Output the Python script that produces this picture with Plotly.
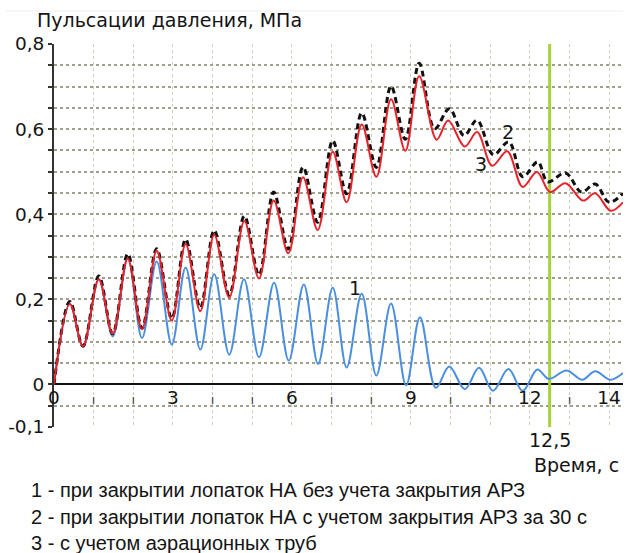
import plotly.graph_objects as go

# ---- data ----
t1 = [0, 0.40, 0.73, 1.13, 1.48, 1.86, 2.22, 2.59, 2.97, 3.32, 3.69, 4.04, 4.42, 4.79,
      5.17, 5.55, 5.92, 6.30, 6.66, 7.03, 7.38, 7.76, 8.13, 8.50, 8.88, 9.23, 9.63, 9.97,
      10.36, 10.72, 11.07, 11.46, 11.82, 12.19, 12.48, 12.93, 13.32, 13.65, 14.03, 14.35]
v1 = [0, 0.189, 0.090, 0.247, 0.113, 0.296, 0.109, 0.289, 0.094, 0.275, 0.082, 0.259, 0.070, 0.247,
      0.064, 0.239, 0.056, 0.235, 0.048, 0.227, 0.040, 0.213, 0.021, 0.190, -0.002, 0.158, -0.008, 0.042,
      -0.011, 0.039, -0.015, 0.036, -0.015, 0.035, 0.013, 0.033, 0.011, 0.031, 0.011, 0.027]

t2 = [0, 0.40, 0.73, 1.13, 1.48, 1.86, 2.22, 2.59, 2.97, 3.32, 3.69, 4.04, 4.42, 4.80,
      5.17, 5.54, 5.91, 6.28, 6.65, 7.03, 7.38, 7.76, 8.13, 8.50, 8.86, 9.21, 9.60, 9.97,
      10.34, 10.67, 11.08, 11.47, 11.82, 12.20, 12.45, 12.90, 13.30, 13.65, 14.00, 14.35]
v2 = [0, 0.195, 0.090, 0.255, 0.119, 0.307, 0.132, 0.319, 0.155, 0.341, 0.180, 0.362, 0.210, 0.396,
      0.257, 0.452, 0.318, 0.511, 0.381, 0.573, 0.448, 0.638, 0.510, 0.701, 0.576, 0.755, 0.601, 0.648,
      0.585, 0.621, 0.540, 0.570, 0.488, 0.523, 0.476, 0.497, 0.452, 0.471, 0.428, 0.449]

t3 = [0, 0.40, 0.73, 1.13, 1.48, 1.86, 2.22, 2.59, 2.97, 3.32, 3.69, 4.04, 4.42, 4.80,
      5.17, 5.54, 5.91, 6.28, 6.65, 7.03, 7.38, 7.76, 8.13, 8.50, 8.86, 9.21, 9.65, 9.94,
      10.36, 10.67, 11.05, 11.43, 11.82, 12.18, 12.51, 12.90, 13.34, 13.65, 14.04, 14.35]
v3 = [0, 0.189, 0.090, 0.247, 0.119, 0.296, 0.130, 0.314, 0.150, 0.330, 0.172, 0.352, 0.204, 0.384,
      0.249, 0.432, 0.308, 0.487, 0.363, 0.547, 0.428, 0.611, 0.488, 0.670, 0.549, 0.724, 0.575, 0.620,
      0.559, 0.593, 0.514, 0.548, 0.464, 0.499, 0.452, 0.473, 0.432, 0.449, 0.408, 0.428]

x_ticks = list(range(0, 15))
x_labels = {0: "0", 3: "3", 6: "6", 9: "9", 12: "12", 14: "14"}
y_ticks = [round(-0.1 + 0.05 * i, 2) for i in range(19)]
y_labels = {0.8: "0,8", 0.6: "0,6", 0.4: "0,4", 0.2: "0,2", 0.0: "0", -0.1: "-0,1"}

marker_time = 12.5
marker_label = "12,5"
curve_labels = [("1", 7.58, 0.226), ("2", 11.45, 0.594), ("3", 10.78, 0.517)]
title_text = "Пульсации давления, МПа"
xtitle_text = "Время, с"
legend_lines = [
    "1 - при закрытии лопаток НА без учета закрытия АРЗ",
    "2 - при закрытии лопаток НА с учетом закрытия АРЗ за 30 с",
    "3 - с учетом аэрационных труб",
]

FONT = "DejaVu Sans, Liberation Sans, sans-serif"
LEG_FONT = "Liberation Sans, Arial, sans-serif"
TXT = "#141414"

fig = go.Figure()
fig.add_trace(go.Scatter(x=t1, y=v1, mode="lines", line=dict(color="#4a8fdf", width=2, shape="spline", smoothing=1.0)))
fig.add_trace(go.Scatter(x=t2, y=v2, mode="lines", line=dict(color="#111111", width=3, dash="6px,4px", shape="spline", smoothing=1.0)))
fig.add_trace(go.Scatter(x=t3, y=v3, mode="lines", line=dict(color="#e8222a", width=2, shape="spline", smoothing=1.0)))

xr = [0, 14.35]
yr = [-0.1, 0.8]

fig.update_layout(
    width=631, height=553,
    margin=dict(l=49, r=8, t=44, b=126),
    paper_bgcolor="white", plot_bgcolor="white",
    showlegend=False,
    font=dict(family=FONT, size=18, color=TXT),
    xaxis=dict(
        range=xr, anchor="free", position=0.1 / 0.9,
        tickmode="array", tickvals=x_ticks,
        ticktext=[x_labels.get(v, "<span style='font-size:13px;color:#444'>ı</span>") for v in x_ticks],
        ticks="", showline=False, zeroline=False,
        showgrid=True, gridcolor="rgb(205,205,185)", griddash="dot", gridwidth=1.2,
        tickfont=dict(size=18.5, color=TXT), ticklabelstandoff=0,
    ),
    yaxis=dict(
        range=yr, tickmode="array", tickvals=y_ticks,
        ticktext=[y_labels.get(v, "") for v in y_ticks],
        ticks="outside", ticklen=4, tickwidth=1.5, tickcolor="#333",
        showline=True, linecolor="#333", linewidth=2,
        zeroline=True, zerolinecolor="#111", zerolinewidth=2,
        showgrid=True, gridcolor="rgb(160,160,140)", griddash="dot", gridwidth=1.5,
        tickfont=dict(size=18.5, color=TXT), ticklabelstandoff=0,
    ),
)

fig.add_shape(type="line", xref="x", yref="y", x0=marker_time, x1=marker_time, y0=yr[0], y1=yr[1],
              line=dict(color="#a6d23c", width=3), layer="between")
fig.add_shape(type="line", xref="paper", yref="paper", x0=-0.085, x1=1.0, y0=1.086, y1=1.086,
              line=dict(color="#eeeeee", width=1))

fig.add_annotation(x=marker_time, y=yr[0], xref="x", yref="y", text=marker_label, showarrow=False,
                   xanchor="center", yanchor="top", yshift=0, font=dict(size=19, color=TXT))
for txt, xx, yy in curve_labels:
    fig.add_annotation(x=xx, y=yy, xref="x", yref="y", text=txt, showarrow=False,
                       font=dict(size=19, color=TXT))
fig.add_annotation(x=-0.034, y=1.063, xref="paper", yref="paper", text=title_text, showarrow=False,
                   xanchor="left", yanchor="middle", font=dict(size=19, color=TXT))
fig.add_annotation(x=0.997, y=-0.099, xref="paper", yref="paper", text=xtitle_text, showarrow=False,
                   xanchor="right", yanchor="middle", font=dict(size=19, color=TXT))
for i, line in enumerate(legend_lines):
    fig.add_annotation(x=-0.044, y=-0.1645 - i * 0.0697, xref="paper", yref="paper", text=line,
                       showarrow=False, xanchor="left", yanchor="middle",
                       font=dict(family=LEG_FONT, size=20, color=TXT))

fig.write_html("out.html", config={"displayModeBar": False},
               post_script="document.body.style.margin='0';document.body.style.padding='0';")
